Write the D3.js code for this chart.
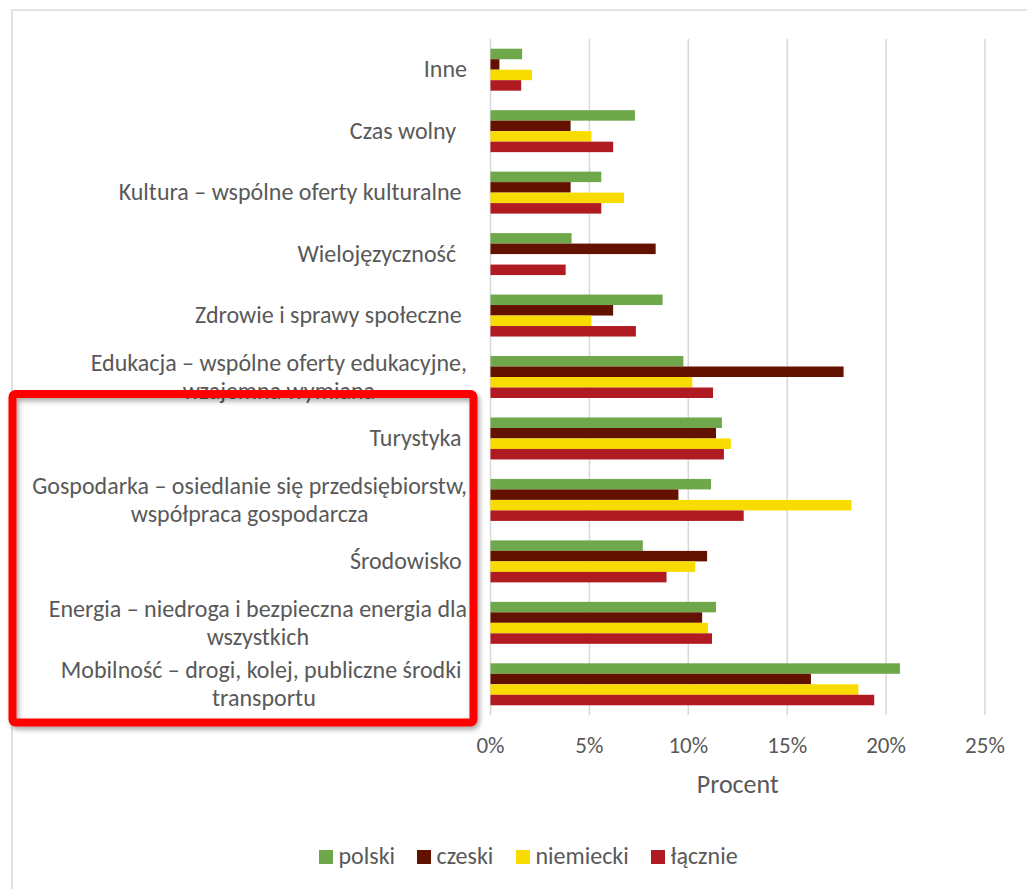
<!DOCTYPE html>
<html>
<head>
<meta charset="utf-8">
<script src="https://cdn.jsdelivr.net/npm/d3@7"></script>
<style>
  html, body { margin: 0; padding: 0; background: #ffffff; }
  svg { display: block; }
  text { font-family: Carlito, Calibri, Lato, "Liberation Sans", sans-serif; fill: #595959; }
</style>
</head>
<body>
<svg id="chart" width="1027" height="889"></svg>
<script>
// ---------- data ----------
const categories = [
  ["Inne"],
  ["Czas wolny  "],
  ["Kultura – wspólne oferty kulturalne "],
  ["Wielojęzyczność  "],
  ["Zdrowie i sprawy społeczne "],
  ["Edukacja – wspólne oferty edukacyjne,", "wzajemna wymiana"],
  ["Turystyka "],
  ["Gospodarka – osiedlanie się przedsiębiorstw,", "współpraca gospodarcza"],
  ["Środowisko "],
  ["Energia – niedroga i bezpieczna energia dla", "wszystkich"],
  ["Mobilność – drogi, kolej, publiczne środki ", "transportu"]
];
const seriesNames = ["polski", "czeski", "niemiecki", "łącznie"];
const seriesColors = ["#6FA84A", "#631200", "#F8DC00", "#AF1B20"];
const polski    = [1.6, 7.3, 5.6, 4.1, 8.7, 9.75, 11.7, 11.15, 7.7, 11.4, 20.7];
const czeski    = [0.45, 4.05, 4.05, 8.35, 6.2, 17.85, 11.4, 9.5, 10.95, 10.7, 16.2];
const niemiecki = [2.1, 5.1, 6.75, 0, 5.1, 10.2, 12.15, 18.25, 10.35, 11.0, 18.6];
const lacznie   = [1.55, 6.2, 5.6, 3.8, 7.35, 11.25, 11.8, 12.8, 8.9, 11.2, 19.4];
const xTicks = [0, 5, 10, 15, 20, 25];
const axisTitle = "Procent";

const seriesValues = [polski, czeski, niemiecki, lacznie];

// ---------- chart ----------
const svg = d3.select("#chart");

// drop-shadow filter for the highlight box
const defs = svg.append("defs");
const f = defs.append("filter").attr("id", "shadow").attr("x", "-5%").attr("y", "-5%").attr("width", "115%").attr("height", "115%");
f.append("feDropShadow").attr("dx", 2).attr("dy", 3).attr("stdDeviation", 2.5)
  .attr("flood-color", "#000").attr("flood-opacity", 0.35);

// chart frame
svg.append("path")
  .attr("d", "M12,889 L12,10 L1027,10")
  .attr("fill", "none").attr("stroke", "#D9D9D9").attr("stroke-width", 1.5);

const x = d3.scaleLinear().domain([0, 25]).range([490.5, 985]);
const y = d3.scaleBand().domain(d3.range(categories.length)).range([39, 715])
  .paddingInner(0.317).paddingOuter(0.158);
const ySub = d3.scaleBand().domain(d3.range(seriesNames.length)).range([0, y.bandwidth()]);

// gridlines
svg.append("g").selectAll("line").data(xTicks).join("line")
  .attr("x1", d => x(d)).attr("x2", d => x(d))
  .attr("y1", 39).attr("y2", 715)
  .attr("stroke", "#D9D9D9").attr("stroke-width", 1.6);

// bars
const groups = svg.append("g").selectAll("g").data(categories).join("g")
  .attr("transform", (d, i) => `translate(0,${y(i)})`);
groups.selectAll("rect")
  .data((d, i) => seriesValues.map((vals, s) => ({ s, v: vals[i] })))
  .join("rect")
  .attr("x", x(0))
  .attr("y", d => ySub(d.s))
  .attr("width", d => x(d.v) - x(0))
  .attr("height", ySub.bandwidth())
  .attr("fill", d => seriesColors[d.s]);

// x axis tick labels
svg.append("g").selectAll("text").data(xTicks).join("text")
  .attr("x", d => x(d)).attr("y", 753)
  .attr("text-anchor", "middle")
  .style("font-size", "23px")
  .text(d => d + "%");

// axis title
svg.append("text")
  .attr("x", (x(0) + x(25)) / 2).attr("y", 793)
  .attr("text-anchor", "middle")
  .style("font-size", "26px")
  .text(axisTitle);

// category labels
const labelRight = 467;
const lineH = 28;
const labelG = svg.append("g");
categories.forEach((lines, i) => {
  const cy = y(i) + y.bandwidth() / 2;
  const texts = lines.map((ln, k) => labelG.append("text")
    .attr("y", cy + (k - (lines.length - 1) / 2) * lineH)
    .attr("dy", "0.32em")
    .attr("text-anchor", "middle")
    .style("font-size", "24px")
    .style("white-space", "pre")
    .text(ln));
  const widths = texts.map(t => t.node().getComputedTextLength());
  const maxW = d3.max(widths);
  const cx = labelRight - maxW / 2;
  texts.forEach(t => t.attr("x", cx));
});

// legend
const legendX = [319, 417, 516, 651];
const lg = svg.append("g").selectAll("g").data(seriesNames).join("g")
  .attr("transform", (d, i) => `translate(${legendX[i]},850)`);
lg.append("rect").attr("width", 14).attr("height", 14).attr("fill", (d, i) => seriesColors[i]);
lg.append("text").attr("x", 19.5).attr("y", 14).style("font-size", "24px").text(d => d);

// highlight box (annotation)
svg.append("rect")
  .attr("x", 12.5).attr("y", 394).attr("width", 461).attr("height", 328.5)
  .attr("rx", 3).attr("fill", "none")
  .attr("stroke", "#FF0000").attr("stroke-width", 8)
  .attr("filter", "url(#shadow)");
</script>
</body>
</html>
